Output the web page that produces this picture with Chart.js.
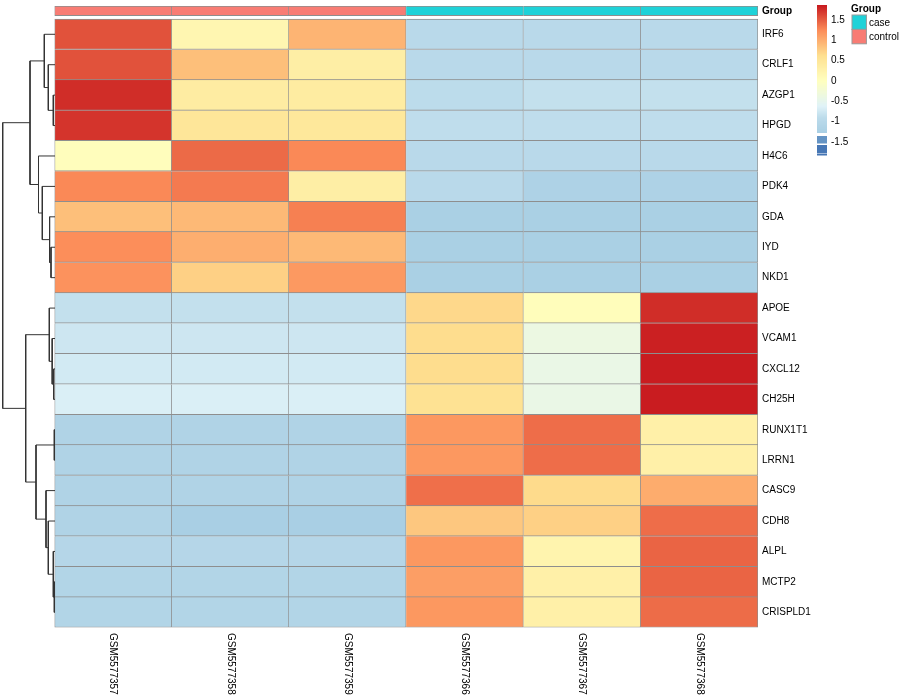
<!DOCTYPE html>
<html>
<head>
<meta charset="utf-8">
<title>Heatmap</title>
<script src="https://cdn.jsdelivr.net/npm/chart.js@4.4.1/dist/chart.umd.min.js"></script>
<style>
  body { margin: 0; background: #fff; }
  #wrap { position: relative; width: 900px; height: 700px; }
  #wrap canvas { position: absolute; top: 0; left: 0; }
</style>
</head>
<body>
<div id="wrap">
  <canvas id="heat" width="900" height="700"></canvas>
  <canvas id="tree" width="56" height="700"></canvas>
</div>
<script>
// rows (top to bottom) and columns
var genes = ['IRF6','CRLF1','AZGP1','HPGD','H4C6','PDK4','GDA','IYD','NKD1','APOE',
             'VCAM1','CXCL12','CH25H','RUNX1T1','LRRN1','CASC9','CDH8','ALPL','MCTP2','CRISPLD1'];
var samples = ['GSM5577357','GSM5577358','GSM5577359','GSM5577366','GSM5577367','GSM5577368'];
var groups = ['control','control','control','case','case','case'];
var groupNames = ['case','control'];

// row z-scores per sample, same order as genes
var gsm5577357 = [1.56, 1.56, 1.76, 1.72, 0.04, 1.26, 0.87, 1.23, 1.20, -0.85,
                  -0.77, -0.73, -0.67, -1.00, -1.00, -1.00, -1.00, -0.96, -0.98, -0.98];
var gsm5577358 = [0.18, 0.87, 0.38, 0.50, 1.43, 1.34, 0.91, 0.99, 0.74, -0.85,
                  -0.77, -0.73, -0.67, -1.00, -1.00, -1.00, -1.05, -0.96, -0.98, -0.98];
var gsm5577359 = [0.95, 0.34, 0.39, 0.47, 1.26, 0.34, 1.31, 0.91, 1.15, -0.85,
                  -0.77, -0.73, -0.67, -1.00, -1.00, -1.00, -1.05, -0.96, -0.98, -0.98];
var gsm5577366 = [-0.93, -0.93, -0.90, -0.88, -0.93, -0.93, -1.04, -1.04, -1.04, 0.68,
                  0.64, 0.64, 0.58, 1.16, 1.16, 1.40, 0.81, 1.16, 1.11, 1.16];
var gsm5577367 = [-0.93, -0.93, -0.85, -0.88, -0.93, -1.01, -1.04, -1.04, -1.04, 0.05,
                  -0.38, -0.42, -0.42, 1.41, 1.41, 0.66, 0.74, 0.22, 0.30, 0.30];
var gsm5577368 = [-0.93, -0.93, -0.85, -0.88, -0.93, -1.01, -1.04, -1.04, -1.04, 1.76,
                  1.83, 1.85, 1.85, 0.30, 0.30, 1.01, 1.41, 1.46, 1.46, 1.42];
var columns = [gsm5577357, gsm5577358, gsm5577359, gsm5577366, gsm5577367, gsm5577368];

// row dendrogram, hclust style: negative = leaf (row number), positive = earlier merge
var mergeA = [-3, -2, -1, -8, -7, -6, -5, 3, -12, -11, -10, -14, -19, -18, -17, -16, 12, 11, 8];
var mergeB = [-4, 1, 2, -9, 4, 5, 6, 7, -13, 9, 10, -15, -20, 13, 14, 15, 16, 17, 18];
var mergeHeight = [0.17, 0.67, 1.07, 0.40, 0.54, 1.27, 1.65, 2.50, 0.13, 0.28, 0.57,
                   0.07, 0.07, 0.17, 0.67, 0.90, 1.90, 2.93, 5.23];

// colour scale legend
var legendTicks = [1.5, 1, 0.5, 0, -0.5, -1, -1.5];
var scaleMax = 1.87, scaleMin = -1.82;

// palette
var paletteStops = [-1.86, -1.24, -0.62, 0, 0.62, 1.24, 1.86];
var paletteColors = ['#4575B4','#91BFDB','#E0F3F8','#FFFFBF','#FEE090','#FC8D59','#C81A1F'];
var groupColors = { case: '#1FD2D8', control: '#F87C74' };
var cellBorder = '#8E8E8E';
var FONT = '"Liberation Sans", Arial, Helvetica, sans-serif';

function hexRgb(h) {
  return [parseInt(h.substr(1, 2), 16), parseInt(h.substr(3, 2), 16), parseInt(h.substr(5, 2), 16)];
}
var paletteRgb = paletteColors.map(hexRgb);

function colorFor(v) {
  var n = paletteStops.length;
  if (v <= paletteStops[0]) v = paletteStops[0];
  if (v >= paletteStops[n - 1]) v = paletteStops[n - 1];
  for (var k = 0; k < n - 1; k++) {
    if (v <= paletteStops[k + 1]) {
      var t = (v - paletteStops[k]) / (paletteStops[k + 1] - paletteStops[k]);
      var a = paletteRgb[k], b = paletteRgb[k + 1];
      return 'rgb(' + Math.round(a[0] + (b[0] - a[0]) * t) + ',' +
        Math.round(a[1] + (b[1] - a[1]) * t) + ',' +
        Math.round(a[2] + (b[2] - a[2]) * t) + ')';
    }
  }
}

// vertical layout in row units (annotation strip sits above row 0)
var annTop = -0.43, annBottom = -0.11;
var rowTicks = [(annTop + annBottom) / 2].concat(genes.map(function(g, i) { return i + 0.5; }));
var rowLabels = ['Group'].concat(genes);

var datasets = genes.map(function(g, i) {
  return {
    label: g,
    data: samples.map(function() { return [i, i + 1]; }),
    backgroundColor: columns.map(function(col) { return colorFor(col[i]); }),
    borderColor: cellBorder,
    borderWidth: function(ctx) {
      return { top: i === 0 ? 1 : 0, left: ctx.dataIndex === 0 ? 1 : 0, right: 1, bottom: 1 };
    },
    borderSkipped: false,
    grouped: false,
    barPercentage: 1,
    categoryPercentage: 1
  };
});
datasets.push({
  label: 'Group',
  data: samples.map(function() { return [annTop, annBottom]; }),
  backgroundColor: groups.map(function(g) { return groupColors[g]; }),
  borderColor: cellBorder,
  borderWidth: function(ctx) {
    return { top: 1, bottom: 1, right: 1, left: ctx.dataIndex === 0 ? 1 : 0 };
  },
  borderSkipped: false,
  grouped: false,
  barPercentage: 1,
  categoryPercentage: 1
});

var extras = {
  id: 'extras',
  afterDraw: function(chart) {
    var ctx = chart.ctx;
    var xs = chart.scales.x;
    ctx.save();
    ctx.fillStyle = '#000';
    ctx.font = '10px ' + FONT;
    ctx.textBaseline = 'middle';
    ctx.textAlign = 'left';
    // column labels, rotated
    samples.forEach(function(s, j) {
      ctx.save();
      ctx.translate(xs.getPixelForValue(j), 633);
      ctx.rotate(Math.PI / 2);
      ctx.fillText(s, 0, 0);
      ctx.restore();
    });

    // colour bar
    var bx = 817, bw = 10, top = 5, bottom = 155;
    var pxPer = (bottom - top) / (scaleMax - scaleMin);
    function yOf(v) { return top + (scaleMax - v) * pxPer; }
    for (var y = top; y < 133; y++) {
      var v = scaleMax - (y + 0.5 - top) / pxPer;
      ctx.fillStyle = colorFor(v < -0.9 ? v - (v + 0.9) * 0.6 : v);
      ctx.fillRect(bx, y, bw, 1);
    }
    ctx.fillStyle = colorFor(-1.6); ctx.fillRect(bx, 136, bw, 7.5);
    ctx.fillStyle = colorFor(-1.84); ctx.fillRect(bx, 145, bw, 8.5);
    ctx.fillStyle = colorFor(-1.86); ctx.fillRect(bx, 154, bw, 1.5);
    ctx.fillStyle = '#000';
    legendTicks.forEach(function(v) {
      ctx.fillText(String(v), 831, yOf(v));
    });

    // group legend
    ctx.font = 'bold 10px ' + FONT;
    ctx.fillText('Group', 851, 9.5);
    ctx.font = '10px ' + FONT;
    groupNames.forEach(function(g, k) {
      var y0 = 15 + k * 14.4;
      ctx.fillStyle = groupColors[g];
      ctx.fillRect(852, y0, 14.4, 14.4);
      ctx.strokeStyle = '#999';
      ctx.lineWidth = 1;
      ctx.strokeRect(852, y0, 14.4, 14.4);
      ctx.fillStyle = '#000';
      ctx.fillText(g, 869, y0 + 8);
    });
    ctx.restore();
  }
};

new Chart(document.getElementById('heat'), {
  type: 'bar',
  data: { labels: samples, datasets: datasets },
  options: {
    responsive: false,
    animation: false,
    layout: { padding: { left: 54.5, top: 6, right: 0, bottom: 72.5 } },
    plugins: { legend: { display: false }, tooltip: { enabled: false } },
    scales: {
      x: { type: 'category', display: false, offset: true },
      y: {
        type: 'linear',
        position: 'right',
        reverse: true,
        min: annTop,
        max: genes.length,
        grid: { display: false, drawTicks: false },
        border: { display: false },
        afterBuildTicks: function(scale) {
          scale.ticks = rowTicks.map(function(v) { return { value: v }; });
        },
        afterFit: function(scale) {
          scale.width = 142;
          scale.paddingTop = 0;
          scale.paddingBottom = 0;
        },
        ticks: {
          padding: 4,
          autoSkip: false,
          color: '#000',
          font: function(ctx) {
            return { family: FONT, size: 10, weight: ctx.index === 0 ? 'bold' : 'normal' };
          },
          callback: function(v, idx) { return rowLabels[idx]; }
        }
      }
    }
  },
  plugins: [extras]
});

// dendrogram segments from the merge table
var nodeY = [], nodeH = [];
function posOf(ref) {
  if (ref < 0) return { y: -ref - 0.5, h: 0 };
  return { y: nodeY[ref - 1], h: nodeH[ref - 1] };
}
var treeSets = mergeA.map(function(a, k) {
  var pa = posOf(a), pb = posOf(mergeB[k]), h = mergeHeight[k];
  nodeY.push((pa.y + pb.y) / 2);
  nodeH.push(h);
  return {
    data: [{ x: pa.h, y: pa.y }, { x: h, y: pa.y }, { x: h, y: pb.y }, { x: pb.h, y: pb.y }],
    showLine: true,
    borderColor: '#333',
    borderWidth: 1,
    pointRadius: 0,
    tension: 0,
    clip: false
  };
});

new Chart(document.getElementById('tree'), {
  type: 'scatter',
  data: { datasets: treeSets },
  options: {
    responsive: false,
    animation: false,
    layout: { padding: { left: 2.7, top: 6, right: 1, bottom: 72.5 } },
    plugins: { legend: { display: false }, tooltip: { enabled: false } },
    scales: {
      x: { type: 'linear', display: false, reverse: true, min: 0, max: Math.max.apply(null, mergeHeight) },
      y: { type: 'linear', display: false, reverse: true, min: annTop, max: genes.length }
    }
  }
});
</script>
</body>
</html>
